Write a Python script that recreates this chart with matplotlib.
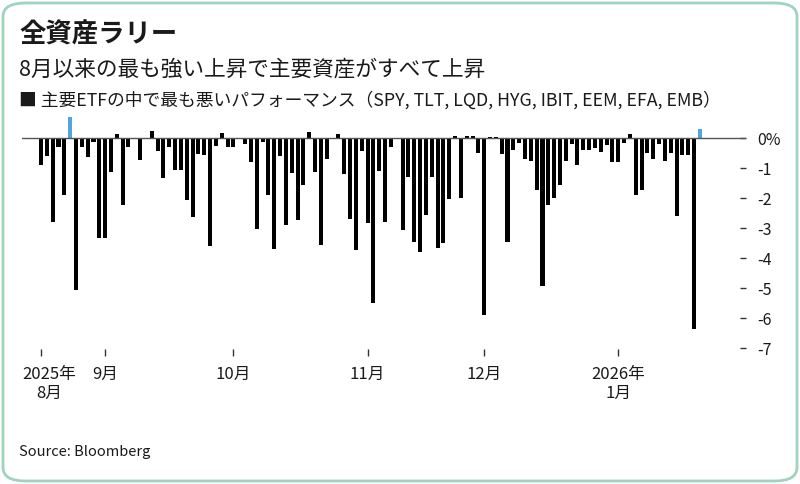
import matplotlib
matplotlib.use("Agg")
import matplotlib.pyplot as plt
import matplotlib.transforms as mtransforms
from matplotlib.patches import FancyBboxPatch

# ======================
# DATA (worst daily return among major ETFs, %)
# ======================
worst_return = [
    -0.87, -0.58, -2.80, -0.28, -1.87, 0.72, -5.05, -0.28, -0.61, -0.11,
    -3.33, -3.33, -1.11, 0.14, -2.22, -0.30, 0.00, -0.73, 0.00, 0.24,
    -0.42, -1.31, -0.28, -1.05, -1.05, -2.05, -2.62, -0.53, -0.56, -3.57,
    -0.24, 0.17, -0.30, -0.30, 0.00, -0.20, -0.80, -3.02, -0.13, -1.87,
    -3.67, -0.58, -2.87, -1.14, -2.73, -1.56, 0.20, -1.11, -3.56, -0.69,
    0.03, 0.16, -1.20, -2.69, -3.72, -0.41, -2.82, -5.50, -1.09, -2.80,
    -0.28, 0.00, -3.06, -1.28, -3.44, -3.78, -2.56, -1.29, -3.64, -3.47,
    -2.02, 0.07, -1.98, 0.09, 0.09, -0.47, -5.87, 0.05, 0.05, -0.52,
    -3.44, -0.40, -0.16, -0.68, -0.75, -1.72, -4.91, -2.21, -2.00, -1.55,
    -0.75, -0.19, -0.87, -0.40, -0.40, -0.33, -0.46, -0.22, -0.79, -0.79,
    -0.14, 0.14, -1.88, -1.72, -0.49, -0.69, -0.17, -0.75, -0.49, -2.57,
    -0.56, -0.56, -6.35, 0.31,
]
highlight_days = [5, 113]          # days where every asset rose strongly
month_tick_days = [0, 11, 33, 56, 76, 99]
month_labels = ["2025年\n8月", "9月", "10月", "11月", "12月", "2026年\n1月"]
y_ticks = [0, -1, -2, -3, -4, -5, -6, -7]
y_labels = ["0%", "-1", "-2", "-3", "-4", "-5", "-6", "-7"]

# ======================
# STYLE
# ======================
plt.rcParams["font.family"] = ["Noto Sans CJK JP", "DejaVu Sans"]
BLACK = "#000000"
BLUE = "#4ea5e0"
TEXT = "#1a1a1a"

W, H = 800, 484
fig = plt.figure(figsize=(W / 100, H / 100), dpi=100)

# rounded card border (behind everything)
card = FancyBboxPatch((3 / W, 3 / H), (W - 6) / W, (H - 6) / H,
                      boxstyle="round,pad=0,rounding_size=0.028",
                      transform=fig.transFigure, facecolor="white",
                      edgecolor="#9fd3bd", linewidth=2, zorder=-10)
fig.patches.append(card)

# axes placement (pixel based)
left_px, right_px, top_px, bottom_px = 22, 746, 114.5, 349
ax = fig.add_axes([left_px / W, 1 - bottom_px / H,
                   (right_px - left_px) / W, (bottom_px - top_px) / H])
ax.patch.set_alpha(0)
ax.set_zorder(5)

x = list(range(len(worst_return)))
colors = [BLUE if i in highlight_days else BLACK for i in x]
ax.bar(x, worst_return, width=0.69, color=colors, zorder=2)
ax.axhline(0, color="#555555", lw=1, zorder=3)

ax.set_xlim(-3.26, 120.9)
ax.set_ylim(-7.02, 0.8)

for s in ax.spines.values():
    s.set_visible(False)

ax.yaxis.tick_right()
ax.set_yticks(y_ticks)
ax.set_yticklabels(y_labels)
ax.tick_params(axis="y", direction="in", length=4.5, width=1, color="#333333",
               pad=8, labelsize=11.5, labelcolor=TEXT)
for lab in ax.get_yticklabels():
    lab.set_horizontalalignment("left")

ax.set_xticks(month_tick_days)
ax.set_xticklabels(month_labels, linespacing=1.2)
ax.tick_params(axis="x", direction="out", length=5, width=1, color="#333333",
               pad=7, labelsize=12, labelcolor=TEXT)
# first label is nudged right so it stays inside the card
first = ax.get_xticklabels()[0]
first.set_transform(first.get_transform() +
                    mtransforms.ScaledTranslation(8 / 100, 0, fig.dpi_scale_trans))

# ======================
# TEXT
# ======================
fig.text(19 / W, 1 - 35 / H, "全資産ラリー", fontsize=19, fontweight="bold",
         color=TEXT, va="center", ha="left")
fig.text(19 / W, 1 - 70 / H, "8月以来の最も強い上昇で主要資産がすべて上昇",
         fontsize=15.6, color=TEXT, va="center", ha="left")
fig.text(19 / W, 1 - 100 / H,
         "■ 主要ETFの中で最も悪いパフォーマンス（SPY, TLT, LQD, HYG, IBIT, EEM, EFA, EMB）",
         fontsize=12.8, color=TEXT, va="center", ha="left")
fig.text(19 / W, 1 - 452 / H, "Source: Bloomberg", fontsize=10.5,
         color=TEXT, va="center", ha="left")

fig.savefig("out.png", dpi=100)
